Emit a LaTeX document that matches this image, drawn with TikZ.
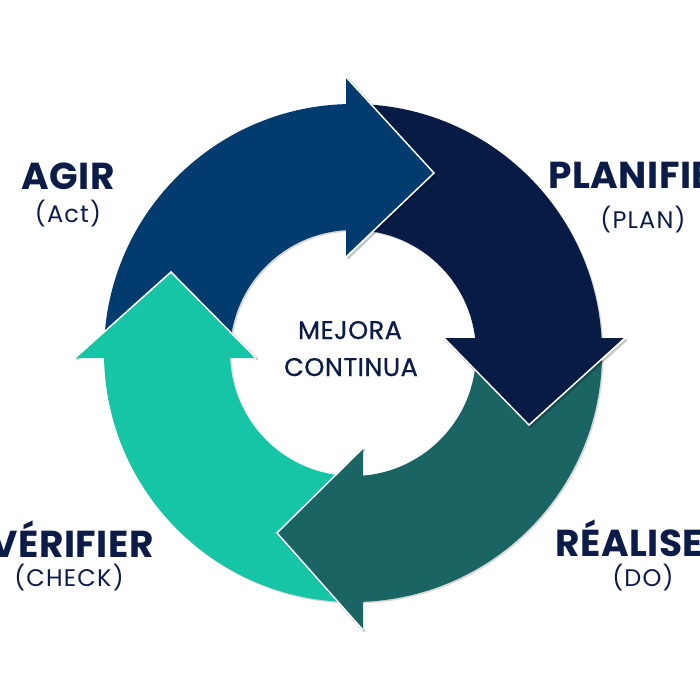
\documentclass[tikz,border=0pt]{standalone}
\usepackage{fontspec}
\setmainfont{Poppins}
\usetikzlibrary{shadows}

\definecolor{actblue}{HTML}{023C6E}
\definecolor{plannavy}{HTML}{081B45}
\definecolor{doteal}{HTML}{1A6464}
\definecolor{checkgreen}{HTML}{16C4A6}
\definecolor{textnavy}{HTML}{0B1C48}

\begin{document}
\begin{tikzpicture}[x=1pt, y=-1pt,
    every node/.style={text=textnavy, inner sep=0pt},
    title/.style={font=\fontsize{37.5}{40}\selectfont\bfseries\addfontfeatures{LetterSpace=1.5}},
    sub/.style={font=\fontsize{24}{26}\selectfont\addfontfeatures{LetterSpace=5}},
    centre/.style={font=\fontsize{25.5}{30}\selectfont\addfontfeatures{FakeBold=0.8,LetterSpace=2}},
    band/.style={drop shadow={shadow xshift=1.5pt, shadow yshift=-1.5pt, opacity=.3}},
    tipshade/.style={draw=black, opacity=.22, line width=2.5pt, shift={(1.5,1.5)}},
    tipedge/.style={draw=white, line width=1.5pt}]
    \useasboundingbox (0,0) rectangle (700,700);
    \fill[white] (0,0) rectangle (700,700);
    \clip (0,0) rectangle (700,700);

    % ring
    \begin{scope}[shift={(353,353)}]
        \fill[actblue, band] (180:249) arc[start angle=180, end angle=270, radius=249]
            -- (270:123) arc[start angle=270, end angle=180, radius=123] -- cycle;
        \fill[plannavy, band] (270:249) arc[start angle=270, end angle=360, radius=249]
            -- (360:123) arc[start angle=360, end angle=270, radius=123] -- cycle;
        \fill[doteal, band] (0:249) arc[start angle=0, end angle=90, radius=249]
            -- (90:123) arc[start angle=90, end angle=0, radius=123] -- cycle;
        \fill[checkgreen, band] (90:249) arc[start angle=90, end angle=180, radius=249]
            -- (180:123) arc[start angle=180, end angle=90, radius=123] -- cycle;
    \end{scope}

    % heads
    \draw[tipshade] (346,77) -- (434,173) -- (346,257);
    \fill[actblue] (346,77) -- (434,173) -- (346,257) -- cycle;
    \draw[tipedge] (346,77) -- (434,173) -- (346,257);

    \draw[tipshade] (444,338) -- (529,425) -- (625,338);
    \fill[plannavy] (444,338) -- (529,425) -- (625,338) -- cycle;
    \draw[tipedge] (444,338) -- (529,425) -- (625,338);

    \draw[tipshade] (363,448) -- (277,533) -- (363,630);
    \fill[doteal] (363,448) -- (277,533) -- (363,630) -- cycle;
    \draw[tipedge] (363,448) -- (277,533) -- (363,630);

    \draw[tipshade] (75,358) -- (171,272) -- (256,358);
    \fill[checkgreen] (75,358) -- (171,272) -- (256,358) -- cycle;
    \draw[tipedge] (75,358) -- (171,272) -- (256,358);

    % labels
    \node (agir) [title, anchor=base] at (68,190) {AGIR};
    \node (agirsub) [sub, anchor=base] at (68,223) {(Act)};
    \node (plan) [title, anchor=base west] at (548,189) {PLANIFIER};
    \node (plansub) [sub, anchor=base] at (643,229) {(PLAN)};
    \node (check) [title, anchor=base east] at (154,557) {VÉRIFIER};
    \node (checksub) [sub, anchor=base] at (69,586) {(CHECK)};
    \node (do) [title, anchor=base west] at (555,556) {RÉALISER};
    \node (dosub) [sub, anchor=base] at (643,586) {(DO)};

    \node (mejora) [centre, anchor=base] at (350,339) {MEJORA};
    \node (continua) [centre, anchor=base] at (351,376) {CONTINUA};
\end{tikzpicture}
\end{document}
